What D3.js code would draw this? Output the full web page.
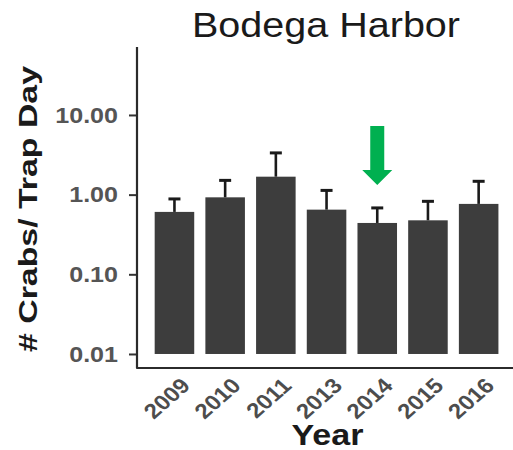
<!DOCTYPE html>
<html>
<head>
<meta charset="utf-8">
<script src="https://cdn.jsdelivr.net/npm/d3@7"></script>
<style>
  html, body { margin: 0; padding: 0; background: #fff; }
  svg { display: block; font-family: "Liberation Sans", Arial, sans-serif; }
</style>
</head>
<body>
<svg id="chart" width="513" height="450"></svg>
<script>
// Mean crabs per trap day by year, with the upper end of each error bar
const years = ["2009", "2010", "2011", "2013", "2014", "2015", "2016"];
const means = [0.607, 0.925, 1.68, 0.648, 0.441, 0.476, 0.765];
const upper = [0.883, 1.51, 3.34, 1.13, 0.681, 0.824, 1.47];
const yTicks = [0.01, 0.1, 1, 10];
const highlightYear = "2014";

const svg = d3.select("#chart");
const W = 513, H = 450;
const axisX = 137, axisY = 368;   // positions of the axis lines
const stretch = 1.14;             // horizontal text widening

// log scale: the axis line runs a little beyond the labelled decades
const y = d3.scaleLog()
  .domain([Math.pow(10, -2.176), Math.pow(10, 1.853)])
  .range([axisY, 47]);

const x = d3.scaleBand()
  .domain(years)
  .range([149.1, 504])
  .paddingInner(0.22)
  .paddingOuter(0.11);

const bw = x.bandwidth();
const base = yTicks[0];

// bars
svg.append("g").selectAll("rect")
  .data(years)
  .join("rect")
  .attr("x", d => x(d))
  .attr("width", bw)
  .attr("y", (d, i) => y(means[i]))
  .attr("height", (d, i) => y(base) - y(means[i]))
  .attr("fill", "#3d3d3d");

// error bars (upper half)
const eb = svg.append("g").attr("stroke", "#1a1a1a");
eb.selectAll("line.v")
  .data(years)
  .join("line")
  .attr("class", "v")
  .attr("x1", d => x(d) + bw / 2)
  .attr("x2", d => x(d) + bw / 2)
  .attr("y1", (d, i) => y(means[i]))
  .attr("y2", (d, i) => y(upper[i]))
  .attr("stroke-width", 2.6);
eb.selectAll("line.c")
  .data(years)
  .join("line")
  .attr("class", "c")
  .attr("x1", d => x(d) + bw / 2 - 6)
  .attr("x2", d => x(d) + bw / 2 + 6)
  .attr("y1", (d, i) => y(upper[i]))
  .attr("y2", (d, i) => y(upper[i]))
  .attr("stroke-width", 3);

// y axis
const yAxis = d3.axisLeft(y)
  .tickValues(yTicks)
  .tickFormat(d3.format(".2f"))
  .tickSize(8)
  .tickSizeOuter(0)
  .tickPadding(11);

const gy = svg.append("g")
  .attr("transform", `translate(${axisX},0)`)
  .call(yAxis);
gy.select(".domain").remove();
gy.selectAll(".tick line").attr("stroke", "#333").attr("stroke-width", 2);
gy.selectAll(".tick text")
  .attr("font-size", 22)
  .attr("font-weight", "bold")
  .attr("fill", "#555")
  .attr("font-family", "Liberation Sans, Arial, sans-serif")
  .each(function () {
    const len = this.getComputedTextLength();
    d3.select(this).attr("textLength", len * stretch).attr("lengthAdjust", "spacingAndGlyphs");
  });

// axis lines
svg.append("path")
  .attr("d", `M${axisX},47 V${axisY} H${W}`)
  .attr("fill", "none")
  .attr("stroke", "#2b2b2b")
  .attr("stroke-width", 2.2)
  .attr("stroke-linejoin", "round");

// x tick labels, rotated 45 degrees
svg.append("g").selectAll("text")
  .data(years)
  .join("text")
  .attr("transform", d => `translate(${x(d) + bw / 2 + 17},387) scale(${stretch},1) rotate(-45)`)
  .attr("text-anchor", "end")
  .attr("font-size", 21)
  .attr("font-weight", "bold")
  .attr("fill", "#4d4d4d")
  .text(d => d);

// titles
svg.append("text")
  .attr("x", 326).attr("y", 37)
  .attr("text-anchor", "middle")
  .attr("font-size", 35)
  .attr("fill", "#1a1a1a")
  .attr("textLength", 268)
  .attr("lengthAdjust", "spacingAndGlyphs")
  .text("Bodega Harbor");

svg.append("text")
  .attr("x", 327.5).attr("y", 445)
  .attr("text-anchor", "middle")
  .attr("font-size", 29)
  .attr("font-weight", "bold")
  .attr("fill", "#1a1a1a")
  .attr("textLength", 72)
  .attr("lengthAdjust", "spacingAndGlyphs")
  .text("Year");

svg.append("text")
  .attr("transform", "translate(37,209) rotate(-90)")
  .attr("text-anchor", "middle")
  .attr("font-size", 26)
  .attr("font-weight", "bold")
  .attr("fill", "#1a1a1a")
  .attr("textLength", 286)
  .attr("lengthAdjust", "spacingAndGlyphs")
  .text("# Crabs/ Trap Day");

// green arrow pointing down at the highlighted year
const hi = years.indexOf(highlightYear);
const ax = x(highlightYear) + bw / 2;
const tipY = y(upper[hi]) - 23;
const shaftHalf = 7, headHalf = 15, headLen = 15, arrowLen = 59;
const arrow = d3.path();
arrow.moveTo(ax - shaftHalf, tipY - arrowLen);
arrow.lineTo(ax + shaftHalf, tipY - arrowLen);
arrow.lineTo(ax + shaftHalf, tipY - headLen);
arrow.lineTo(ax + headHalf, tipY - headLen);
arrow.lineTo(ax, tipY);
arrow.lineTo(ax - headHalf, tipY - headLen);
arrow.lineTo(ax - shaftHalf, tipY - headLen);
arrow.closePath();
svg.append("path").attr("d", arrow.toString()).attr("fill", "#00b050");
</script>
</body>
</html>
